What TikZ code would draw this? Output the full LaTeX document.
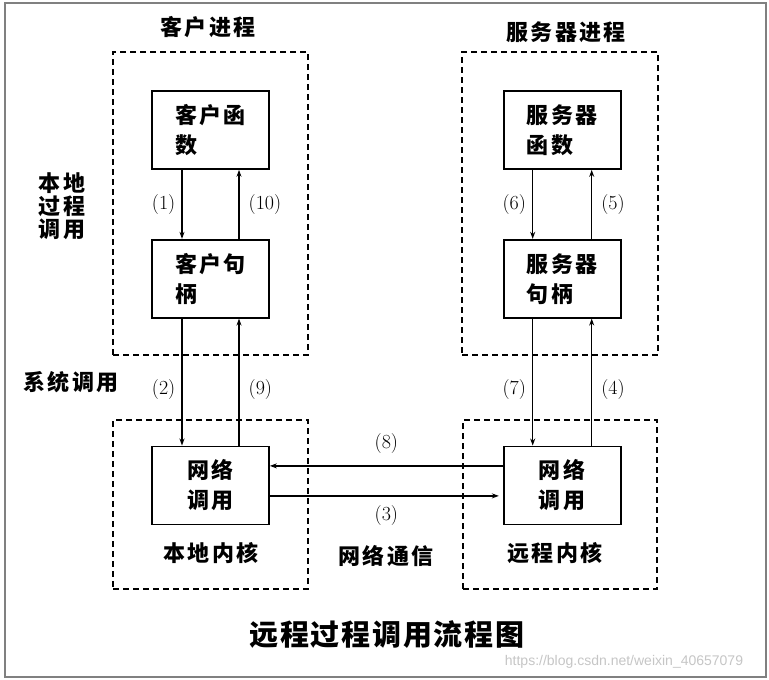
\documentclass[tikz,border=0pt]{standalone}
\usepackage{fontspec}
\newfontfamily\hei{Noto Sans CJK SC}[LetterSpace=11]
\newfontfamily\heititle{Noto Sans CJK SC}[LetterSpace=6]
\newfontfamily\wmark{Liberation Sans}
\usetikzlibrary{positioning,arrows.meta}
\tikzset{
	box/.style={draw, line width=1.7pt, minimum width=117pt, minimum height=78pt, inner sep=2pt, align=left, font=\hei\bfseries\fontsize{22}{30}\selectfont},
	grp/.style={draw, line width=1.7pt, dash pattern=on 6pt off 4pt, inner sep=0pt},
	lbl/.style={inner sep=1pt, align=center, font=\hei\bfseries\fontsize{22}{23}\selectfont},
	num/.style={inner sep=0pt, font=\fontsize{20}{22}\selectfont},
	arr/.style={line width=1.4pt, -{Stealth[length=7pt, width=5pt]}}
}
\begin{document}
\begin{tikzpicture}[x=1pt, y=-1pt]
	\useasboundingbox (0,0) rectangle (769,680);
	\fill[white] (0,0) rectangle (769,680);
	\draw[gray, line width=2pt] (5,3) rectangle (766,677);
	\node[grp, minimum width=195pt, minimum height=303pt] (CP) at (210.5,203.5) {};
	\node[grp, minimum width=196pt, minimum height=303pt] (SP) at (560,203.5) {};
	\node[grp, minimum width=195pt, minimum height=169pt] (CK) at (210.5,504.5) {};
	\node[grp, minimum width=194pt, minimum height=169pt] (SK) at (560,504.5) {};
	\node[box] (CF) at (210.5,130) {客户函\\数};
	\node[box, below = 69pt of CF] (CH) {客户句\\柄};
	\node[box, below = 127pt of CH, align=center] (CN) {网络\\调用};
	\node[box, right = 233pt of CF] (SF) {服务器\\函数};
	\node[box, below = 69pt of SF] (SH) {服务器\\句柄};
	\node[box, below = 127pt of SH, align=center] (SN) {网络\\调用};
	\node[lbl] (CPt) at (208,27) {客户进程};
	\node[lbl] (SPt) at (566,32) {服务器进程};
	\node[lbl] (LPC) at (62,206) {本地\\过程\\调用};
	\node[lbl] (Sys) at (71,382) {系统调用};
	\node[lbl] (CKt) at (211,553) {本地内核};
	\node[lbl] (Net) at (386,556) {网络通信};
	\node[lbl] (SKt) at (555,553) {远程内核};
	\node[font=\heititle\bfseries\fontsize{29}{32}\selectfont] (Title) at (387,635) {远程过程调用流程图};
	\node[gray!45, font=\wmark\fontsize{14}{16}\selectfont] (WM) at (624,662) {https://blog.csdn.net/weixin\_40657079};
	\draw[arr] ([xshift=-28.5pt]CF.south) -- node[num, left = 6pt] {(1)} ([xshift=-28.5pt]CH.north);
	\draw[arr] ([xshift=28.5pt]CH.north) -- node[num, right = 9pt] {(10)} ([xshift=28.5pt]CF.south);
	\draw[arr] ([xshift=-28.5pt]CH.south) -- node[num, pos=0.56, left = 6pt] {(2)} ([xshift=-28.5pt]CN.north);
	\draw[arr] ([xshift=28.5pt]CN.north) -- node[num, pos=0.44, right = 9pt] {(9)} ([xshift=28.5pt]CH.south);
	\draw[arr] ([xshift=-29.5pt]SF.south) -- node[num, left = 6pt] {(6)} ([xshift=-29.5pt]SH.north);
	\draw[arr] ([xshift=29.5pt]SH.north) -- node[num, right = 9pt] {(5)} ([xshift=29.5pt]SF.south);
	\draw[arr] ([xshift=-29.5pt]SH.south) -- node[num, pos=0.56, left = 6pt] {(7)} ([xshift=-29.5pt]SN.north);
	\draw[arr] ([xshift=29.5pt]SN.north) -- node[num, pos=0.44, right = 9pt] {(4)} ([xshift=29.5pt]SH.south);
	\draw[arr] ([yshift=19.5pt]SN.west) -- node[num, above = 12pt] {(8)} ([yshift=19.5pt]CN.east);
	\draw[arr, shorten >=4pt] ([yshift=-10.5pt]CN.east) -- node[num, below = 9pt] {(3)} ([yshift=-10.5pt]SN.west);
\end{tikzpicture}
\end{document}
